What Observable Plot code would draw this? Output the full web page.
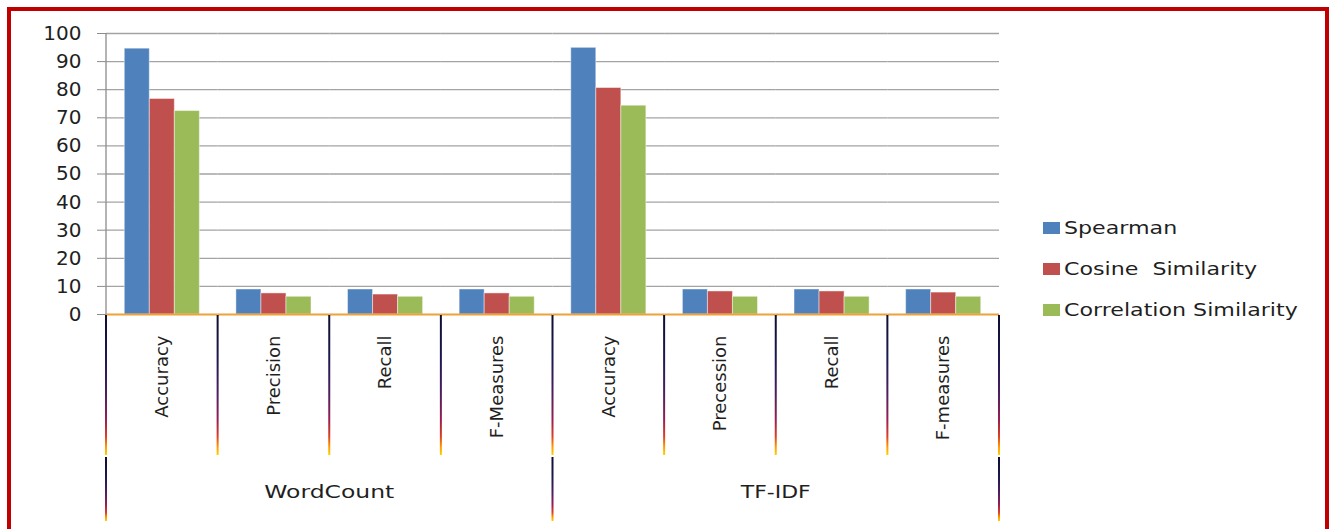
<!DOCTYPE html>
<html>
<head>
<meta charset="utf-8">
<script src="https://cdn.jsdelivr.net/npm/d3@7"></script>
<script src="https://cdn.jsdelivr.net/npm/@observablehq/plot@0.6"></script>
<style>
  body { margin: 0; background: #ffffff; }
  #wrap { position: relative; width: 1334px; height: 529px; overflow: hidden; font-family: "DejaVu Sans", sans-serif; }
  #chart svg { display: block; }
  #frame { position: absolute; left: 7px; top: 7px; width: 1322px; height: 526px; border: 4px solid #c00000; box-sizing: border-box; pointer-events: none; }
  #legend { position: absolute; left: 1043px; top: 207px; }
  .item { display: flex; align-items: center; height: 41px; }
  .sw { width: 17px; height: 12px; margin-right: 4px; flex: none; }
  .lab { font-size: 18px; color: #1f1f1f; white-space: pre; display: inline-block; transform: scaleX(1.23); transform-origin: left center; }
  [aria-label^="y-axis"] { color: #8c8c8c; }
  [aria-label^="y-axis"] text { fill: #1f1f1f; font-size: 20px; }
  [aria-label^="fx-axis"] text { fill: #1f1f1f; }
</style>
</head>
<body>
<div id="wrap">
  <div id="chart"></div>
  <div id="legend"></div>
  <div id="frame"></div>
</div>
<script>
// ---- data ----
const groups = ["WordCount", "TF-IDF"];
const metricsWordCount = ["Accuracy", "Precision", "Recall", "F-Measures"];
const metricsTfidf = ["Accuracy", "Precession", "Recall", "F-measures"];
const series = ["Spearman", "Cosine  Similarity", "Correlation Similarity"];
const colors = ["#4f81bd", "#c0504d", "#9bbb59"];
const spearman    = [94.6, 8.9, 8.9, 8.9, 94.9, 8.9, 8.9, 8.9];
const cosine      = [76.7, 7.5, 7.1, 7.5, 80.6, 8.2, 8.2, 7.8];
const correlation = [72.4, 6.3, 6.3, 6.3, 74.3, 6.3, 6.3, 6.3];
const yTicks = [0, 10, 20, 30, 40, 50, 60, 70, 80, 90, 100];

// ---- table ----
const metricsByGroup = [metricsWordCount, metricsTfidf];
const keys = groups.flatMap((g, gi) => metricsByGroup[gi].map(m => g + "|" + m));
const seriesValues = [spearman, cosine, correlation];
const rows = keys.flatMap((k, i) => series.map((s, j) => ({key: k, series: s, value: seriesValues[j][i]})));

const chart = Plot.plot({
  width: 1334,
  height: 529,
  marginLeft: 106,
  marginRight: 335,
  marginTop: 33,
  marginBottom: 215,
  style: {fontFamily: "DejaVu Sans, sans-serif", fontSize: "18px", color: "#1f1f1f", background: "transparent", overflow: "visible"},
  fx: {domain: keys, padding: 0, round: false, label: null, tickSize: 0, tickPadding: 21, tickRotate: -90, tickFormat: k => k.split("|")[1]},
  x: {domain: series, axis: null, round: false, paddingInner: 0, paddingOuter: 0.73},
  y: {domain: [0, 100], ticks: yTicks, tickSize: 9, tickPadding: 16, label: null},
  color: {domain: series, range: colors},
  marks: [
    Plot.ruleY(yTicks.filter(v => v > 0), {stroke: "#a3a3a3", strokeWidth: 1.3}),
    Plot.barY(rows, {fx: "key", x: "series", y: "value", fill: "series", stroke: "#ffffff", strokeOpacity: 0.45, strokeWidth: 1}),
    Plot.ruleY([0], {stroke: "#eea23a", strokeWidth: 2})
  ]
});
document.getElementById("chart").appendChild(chart);

// ---- category separators, group labels (placed through Plot's scales) ----
const svg = d3.select(chart);
const fxS = chart.scale("fx");
const yS = chart.scale("y");
const fxPos = fxS.apply ? (k => fxS.apply(k)) :
  d3.scaleBand(fxS.domain, fxS.range).paddingInner(fxS.paddingInner ?? 0).paddingOuter(fxS.paddingOuter ?? 0).align(fxS.align ?? 0.5);
const bw = fxS.bandwidth ?? fxS.step;
const yPos = yS.apply ? (v => yS.apply(v)) : d3.scaleLinear(yS.domain, yS.range);
const baseY = yPos(0), topY = yPos(100);

const defs = svg.append("defs");
const grad = defs.append("linearGradient").attr("id", "sepGrad").attr("x1", 0).attr("y1", 0).attr("x2", 0).attr("y2", 1);
[[0, "#0e0e30"], [0.3, "#1a1850"], [0.55, "#4a1e60"], [0.75, "#9a1e50"], [0.87, "#e04020"], [0.94, "#ff9a00"], [1, "#ffd000"]]
  .forEach(([o, c]) => grad.append("stop").attr("offset", o).attr("stop-color", c));

const g = svg.append("g");
// y axis line
g.append("line").attr("x1", fxPos(keys[0])).attr("x2", fxPos(keys[0])).attr("y1", topY).attr("y2", baseY)
  .attr("stroke", "#8c8c8c").attr("stroke-width", 1.3);

const catEdges = keys.map(k => fxPos(k)).concat([fxPos(keys[keys.length - 1]) + bw]);
catEdges.forEach(x => {
  g.append("rect").attr("x", x - 1).attr("width", 2).attr("y", baseY + 1).attr("height", 140).attr("fill", "url(#sepGrad)");
});
const groupStarts = groups.map((gname, gi) => fxPos(keys[gi * 4]));
const groupEdges = groupStarts.concat([catEdges[catEdges.length - 1]]);
groupEdges.forEach(x => {
  g.append("rect").attr("x", x - 1).attr("width", 2).attr("y", baseY + 143).attr("height", 64).attr("fill", "url(#sepGrad)");
});
const labelLens = [130, 70];
groups.forEach((gname, gi) => {
  const cx = (groupEdges[gi] + groupEdges[gi + 1]) / 2;
  g.append("text").attr("x", cx).attr("y", baseY + 178).attr("text-anchor", "middle").attr("dy", "0.35em")
    .attr("font-size", 18).attr("fill", "#1f1f1f")
    .attr("textLength", labelLens[gi]).attr("lengthAdjust", "spacingAndGlyphs")
    .text(gname);
});

// ---- legend ----
const legend = d3.select("#legend");
series.forEach((s, i) => {
  const it = legend.append("div").attr("class", "item");
  it.append("div").attr("class", "sw").style("background", colors[i]);
  it.append("span").attr("class", "lab").text(s);
});
</script>
</body>
</html>
